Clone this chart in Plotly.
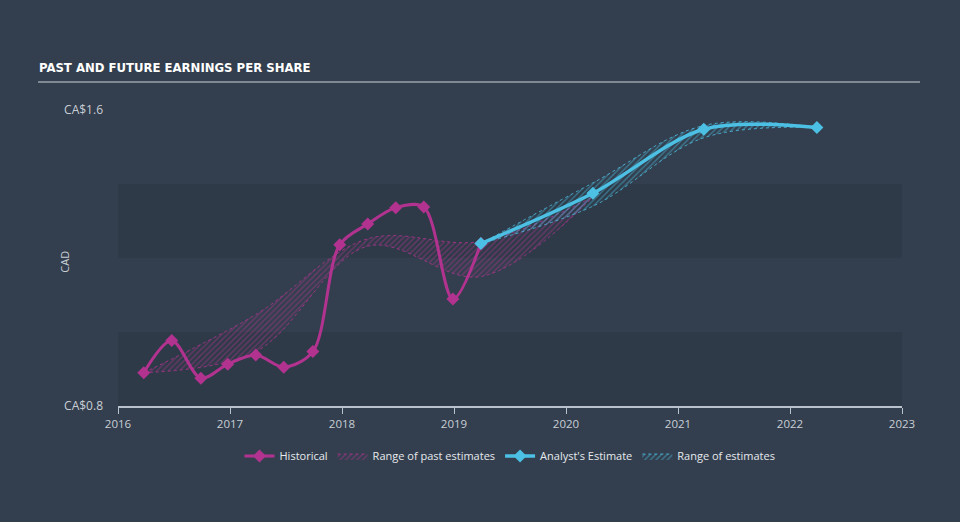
import plotly.graph_objects as go

# Historical EPS
hist_x = [2016.23, 2016.48, 2016.74, 2016.98, 2017.23, 2017.48, 2017.74, 2017.98,
          2018.23, 2018.48, 2018.73, 2018.99, 2019.24]
hist_y = [0.890, 0.977, 0.875, 0.913, 0.938, 0.905, 0.947, 1.236,
          1.292, 1.336, 1.338, 1.089, 1.239]

# Range of past estimates
past_x = [2016.23, 2017.23, 2018.23, 2019.24, 2020.24]
past_hi = [0.890, 1.047, 1.252, 1.245, 1.365]
past_lo = [0.890, 0.947, 1.232, 1.150, 1.365]

# Analyst estimates
est_x = [2019.24, 2020.24, 2021.23, 2022.24]
est_y = [1.239, 1.375, 1.548, 1.553]
est_hi = [1.239, 1.403, 1.558, 1.553]
est_lo = [1.239, 1.340, 1.525, 1.553]

year_ticks = [2016, 2017, 2018, 2019, 2020, 2021, 2022, 2023]
y_ticks = [0.8, 1.6]
y_labels = ["CA$0.8", "CA$1.6"]

MAG = "#b2338f"
CYAN = "#4cc0e4"
BG = "#333f4e"
BAND = "#2e3a48"
TXT = "#c9ced5"

fig = go.Figure()

fig.add_trace(go.Scatter(x=hist_x, y=hist_y, mode="lines+markers", name="Historical",
                         line=dict(color=MAG, width=3, shape="spline", smoothing=0.9),
                         marker=dict(symbol="diamond", size=10, color=MAG)))
# past range
fig.add_trace(go.Scatter(x=past_x, y=past_lo, mode="lines", line=dict(color=MAG, width=0.8, dash="dot", shape="spline"),
                         showlegend=False, hoverinfo="skip"))
fig.add_trace(go.Scatter(x=past_x, y=past_hi, mode="lines", fill="tonexty",
                         line=dict(color=MAG, width=0.8, dash="dot", shape="spline"),
                         fillcolor="rgba(0,0,0,0)",
                         fillpattern=dict(shape="/", fgcolor="rgba(178,51,143,0.9)", bgcolor="rgba(0,0,0,0)", size=4, solidity=0.35),
                         name="Range of past estimates"))
fig.add_trace(go.Scatter(x=est_x, y=est_y, mode="lines+markers", name="Analyst's Estimate",
                         line=dict(color=CYAN, width=3.5, shape="spline", smoothing=0.9),
                         marker=dict(symbol="diamond", size=10, color=CYAN)))
# future range
fig.add_trace(go.Scatter(x=est_x, y=est_lo, mode="lines", line=dict(color=CYAN, width=0.8, dash="dot", shape="spline"),
                         showlegend=False, hoverinfo="skip"))
fig.add_trace(go.Scatter(x=est_x, y=est_hi, mode="lines", fill="tonexty",
                         line=dict(color=CYAN, width=0.8, dash="dot", shape="spline"),
                         fillcolor="rgba(0,0,0,0)",
                         fillpattern=dict(shape="/", fgcolor="rgba(76,192,228,0.9)", bgcolor="rgba(0,0,0,0)", size=4, solidity=0.35),
                         name="Range of estimates"))

# background bands
for y0, y1 in [(0.8, 1.0), (1.2, 1.4)]:
    fig.add_shape(type="rect", xref="paper", yref="y", x0=0, x1=1, y0=y0, y1=y1,
                  fillcolor=BAND, line_width=0, layer="below")

# title underline
fig.add_shape(type="line", xref="paper", yref="paper", x0=-0.102, x1=1.023, y0=1.0946, y1=1.0946,
              line=dict(color="#9aa3ad", width=1.5))
fig.add_annotation(text="<b>PAST AND FUTURE EARNINGS PER SHARE</b>", xref="paper", yref="paper",
                   x=-0.103, y=1.142, xanchor="left", yanchor="middle", showarrow=False,
                   font=dict(family="Liberation Sans Narrow, DejaVu Sans Condensed", size=13, color="#ffffff"))
fig.add_annotation(text="CAD", xref="paper", yref="paper", x=-0.08, y=0.487, textangle=-90,
                   showarrow=False, font=dict(family="Open Sans", size=11, color=TXT))

fig.update_layout(
    width=960, height=522, paper_bgcolor=BG, plot_bgcolor=BG,
    margin=dict(l=118, r=58, t=110, b=116),
    font=dict(family="Open Sans", size=11, color=TXT),
    xaxis=dict(range=[2016, 2023], tickvals=year_ticks, showgrid=False, zeroline=False,
               showline=True, linecolor="#b9c2cc", linewidth=1.5, ticks="outside", ticklen=6,
               tickcolor="#b9c2cc", tickfont=dict(size=11.5, color=TXT)),
    yaxis=dict(range=[0.8, 1.6], tickvals=y_ticks, ticktext=y_labels, showgrid=False, zeroline=False,
               showline=False, ticks="", tickfont=dict(size=12, color=TXT), ticklabelstandoff=14),
    legend=dict(orientation="h", x=0.5, xanchor="center", y=-0.169, yanchor="middle",
                font=dict(size=11, color="#e6e9ed"), bgcolor="rgba(0,0,0,0)",
                traceorder="normal", itemwidth=30),
    showlegend=True,
)

fig.write_html("out.html")
